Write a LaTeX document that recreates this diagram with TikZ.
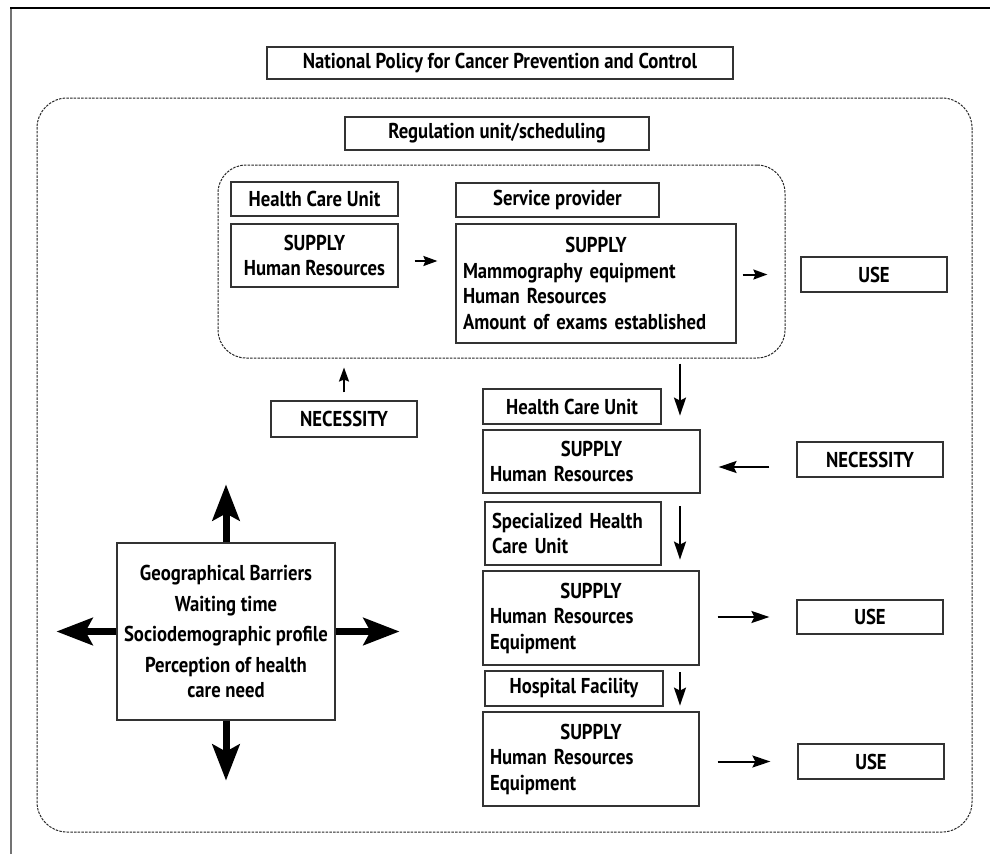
\documentclass[tikz,border=0pt]{standalone}
\usepackage{fontspec}
\setmainfont{PT Sans}[FakeStretch=0.87]
\usetikzlibrary{arrows.meta}

\begin{document}
\begin{tikzpicture}[x=1pt,y=-1pt,
  font=\fontsize{21.5}{25.5}\selectfont\bfseries,
  box/.style={draw=black!80,line width=1.2pt,inner xsep=7pt,inner ysep=0pt,align=center},
  lbox/.style={box,align=left},
  frame/.style={draw=black!85,line width=1pt,dash pattern=on 2.5pt off 1.2pt},
  arr/.style={line width=2pt,-{Stealth[length=14pt,width=10pt,inset=2pt]}},
  flow/.style={line width=2pt,-{Stealth[length=18pt,width=12pt,inset=3pt]}},
  fat/.style={line width=7pt,-{Stealth[length=36pt,width=27pt,inset=7pt]}}]
\useasboundingbox (0,0) rectangle (990,854);
\draw[black!55,line width=1.5pt] (11,854) -- (11,8);
\draw[black,line width=1.5pt] (10.25,8) -- (990,8);

\node[box,minimum width=466pt,minimum height=32pt] (policy) at (500,63) {National Policy for Cancer Prevention and Control};
\node[frame,rounded corners=30pt,minimum width=935pt,minimum height=734pt] (network) at (504.5,465) {};
\node[box,minimum width=304pt,minimum height=33pt] (regulation) at (497,133.5) {Regulation unit/scheduling};
\node[frame,rounded corners=28pt,minimum width=567pt,minimum height=193pt] (scheduling) at (501.5,261.5) {};

\node[box,minimum width=167pt,minimum height=34pt] (unit1) at (314.5,199) {Health Care Unit};
\node[box,minimum width=167pt,minimum height=63pt] (supply1) at (314.5,255.5) {SUPPLY\\Human Resources};
\node[box,minimum width=203pt,minimum height=34pt] (provider) at (557.5,200) {Service provider};
\node[lbox,text width=266pt,minimum height=119pt] (supply2) at (596,283.5) {\makebox[\hsize]{SUPPLY}\\Mammography equipment\\Human Resources\\Amount of exams established};
\node[box,minimum width=146pt,minimum height=35pt] (use1) at (874,274.5) {USE};
\node[box,minimum width=146pt,minimum height=36pt] (need1) at (344,419) {NECESSITY};

\node[box,minimum width=178pt,minimum height=35pt] (unit2) at (572,406.5) {Health Care Unit};
\node[lbox,text width=203pt,minimum height=63pt] (supply3) at (591.5,461.5) {\makebox[\hsize]{SUPPLY}\\Human Resources};
\node[box,minimum width=146pt,minimum height=35pt] (need2) at (870,459.5) {NECESSITY};
\node[lbox,text width=162pt,minimum height=63pt] (special) at (573,533.5) {Specialized Health\\Care Unit};
\node[lbox,text width=202pt,minimum height=94pt] (supply4) at (591,618) {\makebox[\hsize]{SUPPLY}\\Human Resources\\Equipment};
\node[box,minimum width=146pt,minimum height=34pt] (use2) at (870,617) {USE};
\node[box,minimum width=178pt,minimum height=35pt] (hospital) at (574,688.5) {Hospital Facility};
\node[lbox,text width=202pt,minimum height=94pt] (supply5) at (591,759) {\makebox[\hsize]{SUPPLY}\\Human Resources\\Equipment};
\node[box,minimum width=146pt,minimum height=35pt] (use3) at (871,761.5) {USE};

\node[box,minimum width=216pt,minimum height=177pt] (barriers) at (226,631.5) {Geographical Barriers\\[5pt]Waiting time\\[5pt]Sociodemographic profile\\[5pt]Perception of health\\care need};

\coordinate (lane) at (680,0);

\draw[arr,shorten <=16pt,shorten >=18pt] ([yshift=-5.5pt]supply1.east) -- ([yshift=-5.5pt]supply1.east -| supply2.west);
\draw[arr,shorten <=6pt,shorten >=33pt] (supply2.east |- use1.west) -- (use1.west);
\draw[arr,shorten <=8pt,shorten >=9pt] (need1.north) -- (need1.north |- scheduling.south);
\draw[flow,shorten <=5pt,shorten >=9pt] (lane |- scheduling.south) -- (lane |- unit2.south);
\draw[flow,shorten <=5pt,shorten >=6pt] (lane |- special.north) -- (lane |- special.south);
\draw[flow,shorten <=2pt,shorten >=1pt] (lane |- hospital.north) -- (lane |- hospital.south);
\draw[flow,shorten <=27pt,shorten >=18pt] ([yshift=-7.5pt]need2.west) -- ([yshift=-7.5pt]need2.west -| supply3.east);
\draw[flow,shorten <=18pt,shorten >=27pt] (supply4.east |- use2.west) -- (use2.west);
\draw[flow,shorten <=18pt,shorten >=27pt] (supply5.east |- use3.west) -- (use3.west);

\draw[fat] (barriers.north) -- ++(0,-58);
\draw[fat] (barriers.south) -- ++(0,60);
\draw[fat] (barriers.west) -- ++(-60,0);
\draw[fat] (barriers.east) -- ++(64,0);
\end{tikzpicture}
\end{document}
